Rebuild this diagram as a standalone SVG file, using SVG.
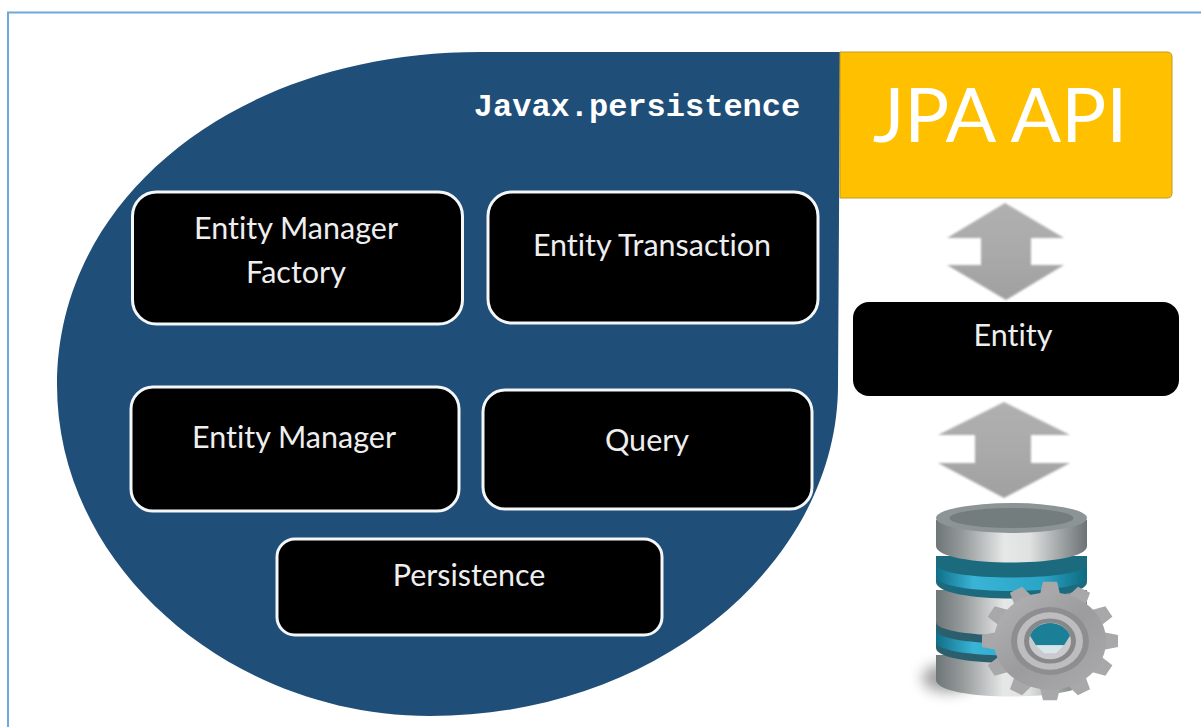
<svg xmlns="http://www.w3.org/2000/svg" width="1201" height="727" viewBox="0 0 1201 727">
<style>
.box{fill:#000;stroke:#f4f6f8;stroke-width:3}
.lb{font-family:"Lato","Open Sans",sans-serif;font-size:30.5px;font-variant-ligatures:none;fill:#eeeeee;text-anchor:middle}
.ar{fill:url(#ag)}
</style>
<defs>
<linearGradient id="ag" x1="0" y1="0" x2="0" y2="1"><stop offset="0" stop-color="#b0b0b0"/><stop offset="0.5" stop-color="#aaa"/><stop offset="1" stop-color="#a0a0a0"/></linearGradient>
<linearGradient id="metal" x1="0" y1="0" x2="1" y2="0"><stop offset="0" stop-color="#6f7678"/><stop offset=".18" stop-color="#969b9c"/><stop offset=".45" stop-color="#e6e7e7"/><stop offset=".62" stop-color="#e0e1e1"/><stop offset=".85" stop-color="#989d9e"/><stop offset="1" stop-color="#6c7375"/></linearGradient>
<linearGradient id="teal" x1="0" y1="0" x2="1" y2="0"><stop offset="0" stop-color="#0f6f88"/><stop offset=".25" stop-color="#3ab4d6"/><stop offset=".7" stop-color="#2ba5c6"/><stop offset="1" stop-color="#0d6a80"/></linearGradient>
<linearGradient id="gear" x1="0" y1="0" x2="1" y2="1"><stop offset="0" stop-color="#b4b4b6"/><stop offset=".5" stop-color="#9c9c9f"/><stop offset="1" stop-color="#ababad"/></linearGradient>
<filter id="soft"><feGaussianBlur stdDeviation=".8"/></filter>
<filter id="blur" x="-60%" y="-150%" width="220%" height="400%"><feGaussianBlur stdDeviation="7"/></filter>
<path id="tooth" d="M-10 -54L-7 -68H7L10 -54Z" fill="#a8a8ab"/>
</defs>
<rect width="1201" height="727" fill="#fff"/>
<path d="M8 727V12.500H1201" fill="none" stroke="#6fa8dc" stroke-width="2"/>
<g id="blob"><path d="M840 52H480C240 52 57 195 57 385C57 568 232 716 430 716C660 716 838 560 838 385Z" fill="#1f4e79"/>
<text x="637" y="116" font-family="'Liberation Mono',monospace" font-weight="700" font-size="32" fill="#fff" text-anchor="middle">Javax.persistence</text></g>
<g id="jpa-api"><path d="M840 52H1167Q1172 52 1172 57V193Q1172 198 1167 198H840Z" fill="#ffc000" stroke="#c49a20" stroke-width="1"/>
<text x="1000" y="142" font-family="'Lato','Open Sans',sans-serif" font-size="75" fill="#fff" text-anchor="middle">JPA API</text></g>
<g id="emf"><rect class="box" x="132.500" y="192" width="330" height="132" rx="24"/><text class="lb" x="296" y="239">Entity Manager</text><text class="lb" x="296" y="283">Factory</text></g>
<g id="et"><rect class="box" x="488" y="192" width="330" height="131" rx="24"/><text class="lb" x="652" y="256">Entity Transaction</text></g>
<g id="em"><rect class="box" x="131" y="387" width="328" height="124" rx="22"/><text class="lb" x="294" y="448">Entity Manager</text></g>
<g id="query"><rect class="box" x="483" y="390" width="329" height="119" rx="22"/><text class="lb" x="647" y="451">Query</text></g>
<g id="persistence"><rect class="box" x="277" y="539" width="385" height="96" rx="18"/><text class="lb" x="469" y="586">Persistence</text></g>
<g id="entity"><rect x="853" y="302" width="326" height="94" rx="16" fill="#000"/><text class="lb" x="1013" y="346">Entity</text></g>
<g id="connectors">
<path class="ar" filter="url(#soft)" d="M1005 203L1064 238H1031V265H1064L1006 300L947 265H981V238H947Z"/>
<path class="ar" filter="url(#soft)" d="M1004 402L1070 435H1031V463H1070L1004 498L938 463H975V435H938Z"/>
</g>
<g id="database">
<ellipse cx="948" cy="678" rx="26" ry="14" fill="#777" filter="url(#blur)" opacity=".7"/>
<path d="M936 655V680C936 702 1086 702 1086 680V655Z" fill="url(#metal)"/>
<path d="M936 622V648C936 668 1087 668 1087 648V622Z" fill="#2b5f6e"/>
<path d="M936 630C936 648 1087 648 1087 630V642C1087 660 936 660 936 642Z" fill="url(#teal)"/>
<path d="M936 590V622C936 640 1087 640 1087 622V590Z" fill="url(#metal)"/>
<path d="M936 556V582C936 604 1087 604 1087 582V556Z" fill="#1c6a7e"/>
<path d="M936 564C936 582 1087 582 1087 564V576C1087 596 936 596 936 576Z" fill="url(#teal)"/>
<path d="M936 520V546C936 568 1087 568 1087 546V520Z" fill="url(#metal)"/>
<ellipse cx="1011.500" cy="518" rx="75.500" ry="15" fill="#8c9496"/>
<ellipse cx="1011.500" cy="518" rx="62" ry="10" fill="#737d7e"/>
<g id="gear-wheel" transform="translate(1050 641) scale(1 .87)">
<use href="#tooth"/><use href="#tooth" transform="rotate(30)"/><use href="#tooth" transform="rotate(60)"/><use href="#tooth" transform="rotate(90)"/><use href="#tooth" transform="rotate(120)"/><use href="#tooth" transform="rotate(150)"/><use href="#tooth" transform="rotate(180)"/><use href="#tooth" transform="rotate(210)"/><use href="#tooth" transform="rotate(240)"/><use href="#tooth" transform="rotate(270)"/><use href="#tooth" transform="rotate(300)"/><use href="#tooth" transform="rotate(330)"/>
<circle r="56" fill="url(#gear)"/><circle r="39" fill="#8e8e91"/><circle r="33" fill="#bdbdbf"/><circle r="26" fill="#88888b"/><circle r="21" fill="#c9cacb"/>
<path d="M-20 -6A21 21 0 0 1 20 -6L14 5H-14Z" fill="#1c7f98"/><path d="M-14 5H14L6 14H-6Z" fill="#d6e6ea"/>
</g>
</g>
</svg>
